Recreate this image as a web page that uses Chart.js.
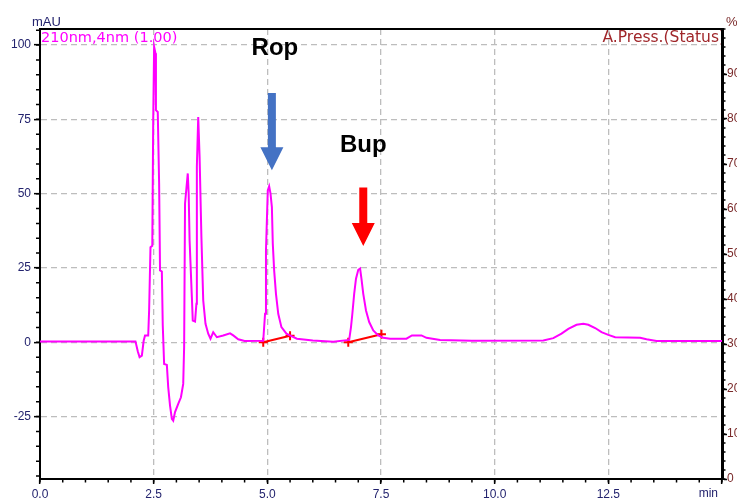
<!DOCTYPE html>
<html>
<head>
<meta charset="utf-8">
<title>Chromatogram 210 nm</title>
<script src="https://cdn.jsdelivr.net/npm/chart.js@4.4.1/dist/chart.umd.min.js"></script>
<style>
  html, body { margin: 0; padding: 0; background: #fff; }
  canvas { display: block; }
</style>
</head>
<body>
<canvas id="chrom" width="737" height="503"></canvas>
<script>
// Detector trace, 210 nm channel: retention time (min) and absorbance (mAU)
const retentionMin = [
  0.00, 1.00, 2.10, 2.15, 2.19, 2.24, 2.28, 2.31, 2.38, 2.40,
  2.43, 2.47, 2.49, 2.51, 2.54, 2.55, 2.59, 2.62, 2.64, 2.68,
  2.70, 2.73, 2.79, 2.82, 2.86, 2.90, 2.93, 2.97, 3.04, 3.10,
  3.15, 3.17, 3.19, 3.25, 3.27, 3.29, 3.34, 3.36, 3.41, 3.44,
  3.45, 3.48, 3.51, 3.55, 3.59, 3.64, 3.70, 3.75, 3.81, 3.89,
  4.03, 4.18, 4.25, 4.36, 4.50, 4.91, 4.95, 4.97, 5.01, 5.04,
  5.07, 5.10, 5.12, 5.15, 5.19, 5.24, 5.31, 5.42, 5.54, 5.65,
  6.00, 6.45, 6.80, 6.84, 6.87, 6.91, 6.95, 7.00, 7.04, 7.07,
  7.11, 7.17, 7.24, 7.33, 7.44, 7.55, 7.70, 8.06, 8.18, 8.39,
  8.50, 8.80, 9.50, 11.07, 11.29, 11.47, 11.62, 11.80, 11.95, 12.06,
  12.21, 12.35, 12.50, 12.65, 13.20, 13.34, 13.56, 15.00
];
const absorbanceMAU = [
  0.3, 0.3, 0.3, -3.0, -5.0, -4.5, 0.5, 2.3, 2.3, 10.7,
  32.0, 32.5, 74.7, 99.4, 97.2, 78.1, 77.5, 53.4, 24.2, 23.8,
  5.7, -7.3, -7.6, -15.1, -21.3, -25.8, -26.4, -23.5, -20.7, -18.5,
  -14.0, -1.6, 46.7, 56.8, 50.0, 34.3, 15.2, 7.3, 7.0, 13.0,
  59.0, 75.8, 62.4, 35.4, 14.1, 6.2, 2.9, 1.2, 3.4, 1.7,
  2.3, 3.0, 2.3, 1.0, 0.4, 0.5, 9.6, 30.9, 51.1, 52.5,
  50.0, 45.5, 33.2, 24.2, 16.3, 9.6, 5.1, 2.9, 2.0, 1.2,
  0.6, 0.2, 0.8, 5.1, 9.6, 16.3, 21.4, 24.4, 24.8, 21.4,
  16.3, 10.7, 6.8, 4.0, 2.3, 1.5, 1.2, 1.2, 2.3, 2.3,
  1.5, 0.8, 0.5, 0.6, 1.4, 2.9, 4.5, 5.9, 6.2, 5.9,
  4.8, 3.4, 2.5, 1.7, 1.5, 1.0, 0.4, 0.4
];

// Integration baselines (start / end of each integrated peak)
const ropBaselineMin = [4.91, 5.50];
const ropBaselineMAU = [0.0, 2.2];
const bupBaselineMin = [6.78, 7.51];
const bupBaselineMAU = [0.0, 2.7];

// Peak names and axis ticks
const compounds = ['Rop', 'Bup'];
const timeTicks = [0, 2.5, 5, 7.5, 10, 12.5, 15];
const mauTicks = [-25, 0, 25, 50, 75, 100];
const pressureTicks = [0, 10, 20, 30, 40, 50, 60, 70, 80, 90];
const channelLabel = '210nm,4nm (1.00)';
const pressureLabel = 'A.Press.(Status)';

const FONT = '"Liberation Sans", Arial, sans-serif';
const WIDE = '"DejaVu Sans", Verdana, sans-serif';
const AXIS_TEXT = '#23236e';
const PRESS_TEXT = '#7a2a2a';

const toPoints = (xs, ys) => xs.map((t, i) => ({ x: t, y: ys[i] }));
const integration = [
  ...toPoints(ropBaselineMin, ropBaselineMAU),
  { x: 5.6, y: null },
  ...toPoints(bupBaselineMin, bupBaselineMAU)
];

// White page plus the pressure channel caption, which sits under the right axis line
const underlay = {
  id: 'underlay',
  beforeDraw(chart) {
    const { ctx, width, height, chartArea: a } = chart;
    ctx.save();
    ctx.fillStyle = '#fff';
    ctx.fillRect(0, 0, width, height);
    ctx.font = '15.5px ' + WIDE;
    ctx.fillStyle = '#a0262a';
    ctx.textAlign = 'right';
    ctx.textBaseline = 'middle';
    ctx.fillText(pressureLabel, a.right + 3, a.top + 9);
    ctx.restore();
  }
};

// Minor tick marks, top frame line and the free-standing captions
const frame = {
  id: 'frame',
  afterDraw(chart) {
    const { ctx, chartArea: a, scales } = chart;
    const { x, y, y2 } = scales;
    ctx.save();
    ctx.strokeStyle = '#000';
    ctx.lineWidth = 1.5;
    ctx.beginPath();
    for (let i = 0; i <= 30; i++) {
      const px = x.getPixelForValue(i * 0.5);
      ctx.moveTo(px, a.bottom); ctx.lineTo(px, a.bottom + 3.5);
    }
    for (let i = -9; i <= 21; i++) {
      const v = i * 5;
      if (v < y.min || v > y.max) continue;
      const py = y.getPixelForValue(v);
      ctx.moveTo(a.left, py); ctx.lineTo(a.left - 4, py);
    }
    for (let i = 0; i <= 50; i++) {
      const v = i * 2;
      if (v > y2.max) continue;
      const py = y2.getPixelForValue(v);
      ctx.moveTo(a.right, py); ctx.lineTo(a.right + 3.5, py);
    }
    ctx.stroke();

    ctx.lineWidth = 2;
    ctx.beginPath();
    ctx.moveTo(a.left - 1, a.top); ctx.lineTo(a.right + 1, a.top);
    ctx.stroke();

    ctx.textBaseline = 'alphabetic';
    ctx.font = '13px ' + FONT;
    ctx.fillStyle = AXIS_TEXT;
    ctx.textAlign = 'left';
    ctx.fillText('mAU', 32, 26);
    ctx.fillStyle = PRESS_TEXT;
    ctx.fillText('%', 726, 26);

    ctx.textBaseline = 'middle';
    ctx.font = '14.5px ' + WIDE;
    ctx.fillStyle = '#ff00ff';
    ctx.fillText(channelLabel, a.left + 1, a.top + 9);

    ctx.font = '12px ' + FONT;
    ctx.fillStyle = AXIS_TEXT;
    ctx.textAlign = 'right';
    ctx.fillText('min', a.right - 4, a.bottom + 15);
    ctx.restore();
  }
};

// Peak markers: bold name above a block arrow pointing down at the peak
const peakArrows = {
  id: 'peakArrows',
  afterDatasetsDraw(chart, args, opts) {
    const { ctx, scales: { x, y } } = chart;
    ctx.save();
    opts.items.forEach((it) => {
      const cx = x.getPixelForValue(it.at);
      const top = y.getPixelForValue(it.from);
      const tip = y.getPixelForValue(it.to);
      const shaft = 4, head = 11.5, headLen = 23;
      ctx.fillStyle = it.color;
      ctx.beginPath();
      ctx.moveTo(cx - shaft, top);
      ctx.lineTo(cx + shaft, top);
      ctx.lineTo(cx + shaft, tip - headLen);
      ctx.lineTo(cx + head, tip - headLen);
      ctx.lineTo(cx, tip);
      ctx.lineTo(cx - head, tip - headLen);
      ctx.lineTo(cx - shaft, tip - headLen);
      ctx.closePath();
      ctx.fill();
      ctx.fillStyle = '#000';
      ctx.font = 'bold 24px ' + FONT;
      ctx.textAlign = 'center';
      ctx.textBaseline = 'middle';
      ctx.fillText(it.label, cx + (it.dx || 0), y.getPixelForValue(it.textAt));
    });
    ctx.restore();
  }
};

new Chart(document.getElementById('chrom'), {
  type: 'line',
  data: {
    datasets: [
      {
        data: toPoints(retentionMin, absorbanceMAU),
        borderColor: '#ff00ff',
        borderWidth: 2,
        pointRadius: 0,
        tension: 0,
        yAxisID: 'y'
      },
      {
        data: integration,
        borderColor: '#ff0000',
        borderWidth: 2,
        pointStyle: 'cross',
        pointRadius: 4.5,
        pointBorderWidth: 2,
        pointBorderColor: '#ff0000',
        spanGaps: false,
        tension: 0,
        yAxisID: 'y'
      }
    ]
  },
  options: {
    responsive: false,
    animation: false,
    events: [],
    layout: { padding: { top: 29, left: 0, right: 0, bottom: 0 } },
    plugins: {
      legend: { display: false },
      tooltip: { enabled: false },
      peakArrows: {
        items: [
          { label: compounds[0], at: 5.10, from: 83.9, to: 57.9, textAt: 98.9, dx: 3, color: '#4472c4' },
          { label: compounds[1], at: 7.11, from: 52.1, to: 32.4, textAt: 66.3, dx: 0, color: '#ff0000' }
        ]
      }
    },
    scales: {
      x: {
        type: 'linear',
        min: 0,
        max: 15,
        afterFit: (s) => { s.height = 24; },
        afterBuildTicks: (s) => { s.ticks = timeTicks.map((v) => ({ value: v })); },
        ticks: {
          maxRotation: 0,
          autoSkip: false,
          padding: 3,
          color: AXIS_TEXT,
          font: { family: FONT, size: 12 },
          callback: (v) => (v >= 15 ? '' : Number(v).toFixed(1))
        },
        grid: {
          color: (c) => (c.tick && (c.tick.value <= 0 || c.tick.value >= 15) ? 'rgba(0,0,0,0)' : '#bdbdbd'),
          lineWidth: 1.3,
          tickLength: 5,
          tickColor: '#000',
          tickWidth: 1.5
        },
        border: { display: true, color: '#000', width: 2, dash: [6, 4] }
      },
      y: {
        position: 'left',
        min: -46,
        max: 105.4,
        afterFit: (s) => { s.width = 40; },
        afterBuildTicks: (s) => { s.ticks = mauTicks.map((v) => ({ value: v })); },
        ticks: {
          padding: 3,
          color: AXIS_TEXT,
          font: { family: FONT, size: 12 }
        },
        grid: {
          color: '#bdbdbd',
          lineWidth: 1.3,
          tickLength: 6,
          tickColor: '#000',
          tickWidth: 1.5
        },
        border: { display: true, color: '#000', width: 2, dash: [6, 4] }
      },
      y2: {
        position: 'right',
        min: 0,
        max: 100,
        afterFit: (s) => { s.width = 15; },
        afterBuildTicks: (s) => { s.ticks = pressureTicks.map((v) => ({ value: v })); },
        ticks: {
          padding: 0,
          color: PRESS_TEXT,
          font: { family: FONT, size: 12 }
        },
        grid: {
          drawOnChartArea: false,
          tickLength: 5,
          tickColor: '#000',
          tickWidth: 1.5
        },
        border: { display: true, color: '#000', width: 3 }
      }
    }
  },
  plugins: [underlay, frame, peakArrows]
});
</script>
</body>
</html>
